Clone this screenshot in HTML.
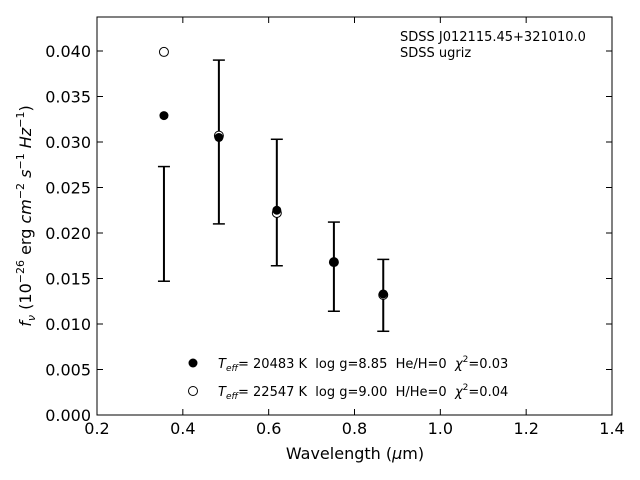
<!DOCTYPE html>
<html><head><meta charset="utf-8"><style>
body{margin:0;background:#fff}
svg{display:block;font-family:"DejaVu Sans","Liberation Sans",sans-serif}
text{white-space:pre}
</style></head><body>
<svg id="chart" width="640" height="480" viewBox="0 0 640 480" xmlns="http://www.w3.org/2000/svg" xml:space="preserve">
<rect width="640" height="480" fill="#fff"/>
<g id="marks"></g>
<rect x="97" y="17" width="515" height="398" fill="none" stroke="#000" stroke-width="1"/>
<g id="axes"></g>
<text x="355" y="459" font-size="16" text-anchor="middle">Wavelength (<tspan font-style="italic">μ</tspan>m)</text>
<text transform="translate(31,216) rotate(-90)" font-size="16" text-anchor="middle"><tspan font-style="italic">f</tspan><tspan font-style="italic" font-size="11" dy="4">ν</tspan><tspan dy="-4"> (10</tspan><tspan font-size="11" dy="-7">−26</tspan><tspan dy="7"> erg </tspan><tspan font-style="italic">cm</tspan><tspan font-size="11" dy="-7">−2</tspan><tspan dy="7"> </tspan><tspan font-style="italic">s</tspan><tspan font-size="11" dy="-7">−1</tspan><tspan dy="7"> </tspan><tspan font-style="italic">Hz</tspan><tspan font-size="11" dy="-7">−1</tspan><tspan dy="7">)</tspan></text>
<text x="400" y="41" font-size="13">SDSS J012115.45+321010.0</text>
<text x="400" y="57" font-size="13">SDSS ugriz</text>
<g>
<circle cx="193" cy="363" r="4.5" fill="#000"/>
<text x="218" y="368" font-size="13"><tspan font-style="italic">T</tspan><tspan font-style="italic" font-size="9" dy="3">eff</tspan><tspan dy="-3">= 20483 K  log g=8.85  He/H=0  </tspan><tspan font-style="italic">χ</tspan><tspan font-size="9" dy="-6">2</tspan><tspan dy="6">=0.03</tspan></text>
<circle cx="193" cy="391" r="4.5" fill="#fff" stroke="#000"/>
<text x="218" y="396" font-size="13"><tspan font-style="italic">T</tspan><tspan font-style="italic" font-size="9" dy="3">eff</tspan><tspan dy="-3">= 22547 K  log g=9.00  H/He=0  </tspan><tspan font-style="italic">χ</tspan><tspan font-size="9" dy="-6">2</tspan><tspan dy="6">=0.04</tspan></text>
</g>
</svg>
<script>
const wavelengths=[0.356,0.484,0.619,0.752,0.867];
const obsFlux=[0.0210,0.0300,0.02335,0.0163,0.01315];
const obsErr=[0.0063,0.0090,0.00695,0.0049,0.00395];
const modelH=[0.0329,0.0305,0.0225,0.0168,0.0133];
const modelHe=[0.0399,0.0307,0.0222,0.0168,0.0132];
const xTicks=[0.2,0.4,0.6,0.8,1.0,1.2,1.4];
const yTicks=[0,0.005,0.010,0.015,0.020,0.025,0.030,0.035,0.040];
const NS="http://www.w3.org/2000/svg";
function xs(v){return 97+(v-0.2)/1.2*515;}
function ys(v){return 415-v/0.040*364;}
function mk(tag,attrs,parent){const e=document.createElementNS(NS,tag);for(const k in attrs)e.setAttribute(k,attrs[k]);parent.appendChild(e);return e;}
const axes=document.getElementById('axes'),marks=document.getElementById('marks');
xTicks.forEach(t=>{const x=xs(t);
 let l=mk('line',{x1:x,x2:x,y1:415,y2:409,stroke:'#000'},axes);
 
 
 let l2=mk('line',{x1:x,x2:x,y1:17,y2:23,stroke:'#000'},axes);
 
 
 let tx=mk('text',{x:x,y:434,'font-size':16,'text-anchor':'middle'},axes);tx.textContent=t.toFixed(1);
 
 
});
yTicks.forEach(t=>{const y=ys(t);
 let l=mk('line',{x1:97,x2:103,y1:y,y2:y,stroke:'#000'},axes);
 
 
 let l2=mk('line',{x1:612,x2:606,y1:y,y2:y,stroke:'#000'},axes);
 
 
 let tx=mk('text',{x:91,y:y+6,'font-size':16,'text-anchor':'end'},axes);tx.textContent=t.toFixed(3);
 
 
});
wavelengths.forEach((w,i)=>{const x=xs(w);
 const g=mk('g',{},marks);
 
 
 const y1=ys(obsFlux[i]-obsErr[i]),y2=ys(obsFlux[i]+obsErr[i]);
 mk('line',{x1:x,x2:x,y1:y1,y2:y2,stroke:'#000','stroke-width':2},g);
 mk('line',{x1:x-6,x2:x+6,y1:y1,y2:y1,stroke:'#000','stroke-width':1.5},g);
 mk('line',{x1:x-6,x2:x+6,y1:y2,y2:y2,stroke:'#000','stroke-width':1.5},g);
 const c2=mk('circle',{cx:x,cy:ys(modelHe[i]),r:4.5,fill:'#fff',stroke:'#000'},marks);
 
 
 const c1=mk('circle',{cx:x,cy:ys(modelH[i]),r:4.5,fill:'#000'},marks);
 
 
});
</script>
</body></html>
